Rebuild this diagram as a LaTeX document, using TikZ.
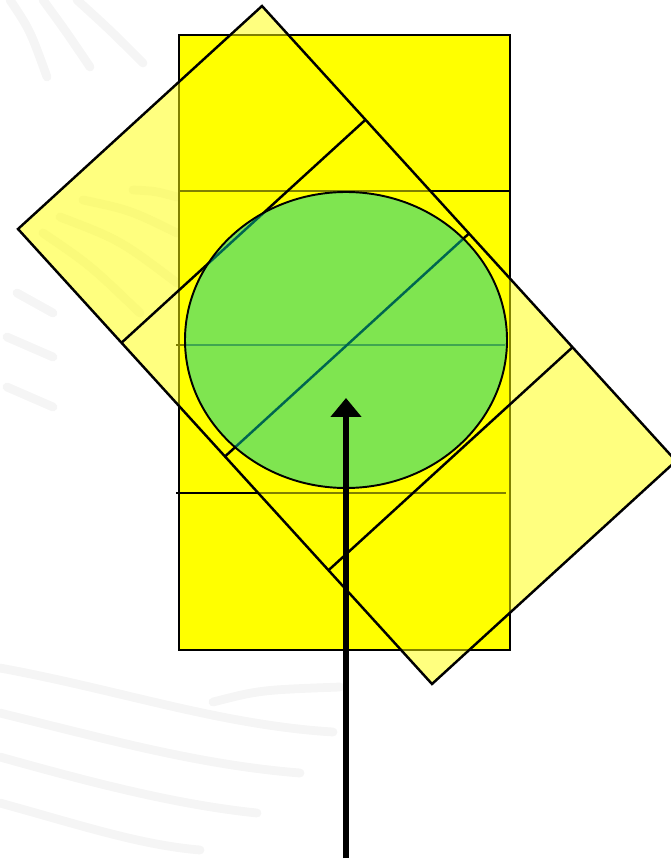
\documentclass[tikz,border=0pt]{standalone}
\usetikzlibrary{arrows.meta,calc}
\definecolor{boardyellow}{RGB}{255,255,0}
\definecolor{ballgreen}{RGB}{0,205,160}
\begin{document}
\begin{tikzpicture}[x=0.02cm, y=-0.02cm,
  band/.style={draw=black!4, line width=5pt, line cap=round},
  board/.style={draw=black, line width=1.3pt, fill=boardyellow},
  boardline/.style={draw=black, line width=1pt},
  tilted/.style={draw=black, line width=1.4pt, fill=boardyellow, fill opacity=0.5, draw opacity=1, line join=miter},
  tiltline/.style={draw=black, line width=1.4pt},
  ball/.style={draw=black, line width=1.1pt, fill=ballgreen, fill opacity=0.5, draw opacity=1},
  shove/.style={draw=black, line width=3.2pt, -{Triangle[length=0.38cm, width=0.6cm]}}
]
  \useasboundingbox (0,0) rectangle (671,861);

  % faint background bands
  \draw[band] (0,668) .. controls (120,690) and (220,725) .. (333,732);
  \draw[band] (0,713) .. controls (110,740) and (200,765) .. (300,773);
  \draw[band] (0,757) .. controls (100,785) and (180,805) .. (257,813);
  \draw[band] (0,803) .. controls (80,825) and (140,845) .. (200,850);
  \draw[band] (213,702) .. controls (260,690) .. (340,687);
  \draw[band] (10,0) .. controls (30,30) .. (47,77);
  \draw[band] (43,0) .. controls (65,30) .. (90,67);
  \draw[band] (77,0) .. controls (110,30) .. (143,63);
  \draw[band] (133,190) .. controls (155,191) .. (177,197);
  \draw[band] (83,200) .. controls (130,210) .. (177,233);
  \draw[band] (60,217) .. controls (120,240) .. (177,283);
  \draw[band] (43,233) .. controls (90,265) .. (140,313);
  \draw[band] (17,293) -- (53,313);
  \draw[band] (7,337) -- (53,357);
  \draw[band] (7,387) -- (53,407);

  % upright board
  \draw[board] (179,35) rectangle (510,650);
  \draw[boardline] (179,191) -- (510,191);
  \draw[boardline] (176,345) -- (505,345);
  \draw[boardline] (176,493) -- (506,493);

  % tilted board
  \coordinate (top) at (262,6);
  \coordinate (right) at (676,461);
  \coordinate (bottom) at (432,684);
  \coordinate (left) at (18,229);
  \draw[tilted] (top) -- (right) -- (bottom) -- (left) -- cycle;
  \foreach \k in {0.25,0.5,0.75}
    \draw[tiltline] ($(left)!\k!(bottom)$) -- ($(top)!\k!(right)$);

  % ball
  \draw[ball] (346,340) ellipse [x radius=161, y radius=148];

  % push
  \coordinate (push) at (346,858);
  \coordinate (hit) at (346,398);
  \draw[shove] (push) -- (hit);
\end{tikzpicture}
\end{document}
